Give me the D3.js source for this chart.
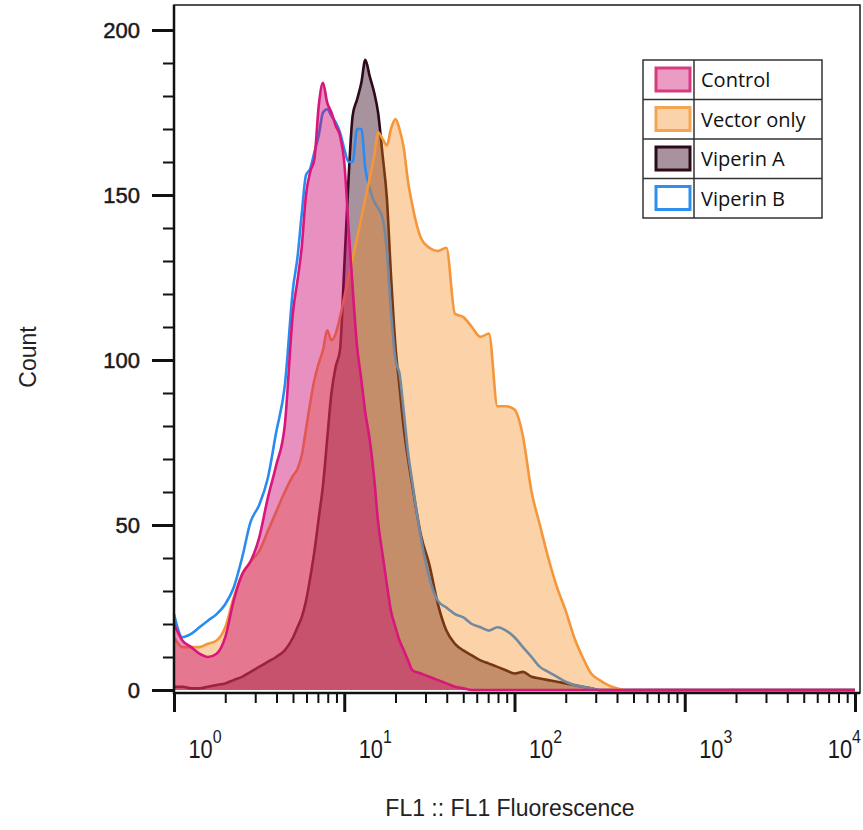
<!DOCTYPE html>
<html>
<head>
<meta charset="utf-8">
<script src="https://cdn.jsdelivr.net/npm/d3@7"></script>
<style>
  body { margin: 0; background: #fff; }
  text { font-family: "Liberation Sans", Arial, sans-serif; }
  .legend text { font-family: "Open Sans", sans-serif; }
</style>
</head>
<body>
<svg id="chart" width="863" height="830"></svg>
<script>
//Data - bin centres on the FL1 axis and the counts read for each sample
var fluorescence = [1.00, 1.12, 1.26, 1.41, 1.58, 1.78, 2.00, 2.24, 2.51, 2.82, 3.16, 3.55, 3.98, 4.47, 5.01,
	5.31, 5.62, 5.96, 6.31, 6.68, 7.08, 7.50, 7.94, 8.41, 8.91, 9.44, 10.0, 10.6, 11.2, 11.9, 12.6, 13.3, 14.1,
	15.0, 15.8, 16.8, 17.8, 18.8, 20.0, 21.1, 22.4, 23.7, 25.1,
	28.2, 31.6, 35.5, 39.8, 44.7, 50.1, 56.2, 63.1, 70.8, 79.4, 89.1, 100, 112, 126, 141, 158, 178, 200, 224,
	251, 282, 316, 355, 398, 447, 501, 631, 1000, 10000];

var control = [20, 15, 13, 11, 10, 11, 16, 27, 35, 39, 46, 58, 68, 80, 115,
	124, 134, 150, 157, 161, 177, 184, 178, 175, 171, 168, 160, 140, 122, 104, 94, 84, 76,
	64, 51, 41, 32, 24, 19, 15, 12, 9, 6,
	5, 4, 3, 2, 1, 0.5, 0, 0, 0, 0, 0, 0, 0, 0, 0, 0, 0, 0, 0,
	0, 0, 0, 0, 0, 0, 0, 0, 0, 0];

var vectorOnly = [16, 13, 13, 13, 14, 15, 19, 28, 35, 39, 42, 48, 54, 60, 65,
	67, 71, 79, 87, 94, 99, 103, 109, 106, 108, 113, 119, 125, 131, 137, 143, 149, 155,
	162, 169, 167, 165, 170, 173, 170, 164, 154, 147,
	137, 134, 133, 134, 114, 113, 110, 107, 108, 86, 86, 85, 77, 60, 50, 40, 31, 24, 16,
	10, 5, 3, 1.5, 0.5, 0, 0, 0, 0, 0];

var viperinA = [1, 1, 0.5, 0.5, 1, 1.5, 2, 3, 4, 5.5, 7, 8.5, 10, 12, 16,
	19, 22, 27, 34, 42, 52, 62, 76, 90, 98, 103, 128, 155, 174, 179, 184, 191, 186,
	181, 175, 162, 149, 126, 104, 92, 79, 70, 62,
	47, 38, 26, 18, 14, 12, 10.5, 9, 8, 7, 6, 5, 5.5, 4, 3.5, 3, 2.5, 2, 1.5,
	1, 0.5, 0, 0, 0, 0, 0, 0, 0, 0];

var viperinB = [23, 16, 17, 19, 21, 23, 26, 31, 40, 51, 56, 64, 78, 92, 122,
	131, 144, 156, 158, 163, 168, 175, 176, 174, 172, 169, 164, 160, 160, 170, 170, 158, 152,
	148, 146, 143, 133, 115, 100, 96, 84, 72, 63,
	46, 34, 27, 25, 23, 22, 20, 19, 18, 19, 18, 16, 13, 10, 7, 5.5, 4, 2.5, 1.5,
	1, 0.5, 0, 0, 0, 0, 0, 0, 0, 0];

var seriesNames = ["Control", "Vector only", "Viperin A", "Viperin B"];
var decades = [1, 10, 100, 1000, 10000];
var decadeLabels = ["0", "1", "2", "3", "4"];
var countTicks = [0, 50, 100, 150, 200];

//Styles (fill is drawn semi transparent so the overlaps mix like the cytometer export)
var styles = {
	"Control":     { fill: "#cc0973", fillOpacity: 0.45, stroke: "#d8177c" },
	"Vector only": { fill: "#f78514", fillOpacity: 0.37, stroke: "#f5963a" },
	"Viperin A":   { fill: "#3b0f25", fillOpacity: 0.45, stroke: "#2b0a1a" },
	"Viperin B":   { fill: "none",    fillOpacity: 0,    stroke: "#2a8cf0" }
};
var legendSwatch = {
	"Control":     { fill: "#eb9cc4", stroke: "#d63a80" },
	"Vector only": { fill: "#fbd3aa", stroke: "#f4a552" },
	"Viperin A":   { fill: "#a8929e", stroke: "#2b0a1a" },
	"Viperin B":   { fill: "#ffffff", stroke: "#2d8ff0" }
};

var counts = {
	"Control": control,
	"Vector only": vectorOnly,
	"Viperin A": viperinA,
	"Viperin B": viperinB
};

var svg = d3.select("#chart");

var x = d3.scaleLog()
	.domain([1, 10000])
	.range([174, 855]);

var y = d3.scaleLinear()
	.domain([0, 200])
	.range([690, 30]);

var plotLeft = 174, plotTop = 5, plotRight = 860, plotBottom = 693;

function seriesPoints(name) {
	return fluorescence.map(function(f, i) { return [f, counts[name][i]]; });
}

var area = d3.area()
	.x(function(d) { return x(d[0]); })
	.y0(y(0))
	.y1(function(d) { return y(d[1]); })
	.curve(d3.curveMonotoneX);

var line = d3.line()
	.x(function(d) { return x(d[0]); })
	.y(function(d) { return y(d[1]); })
	.curve(d3.curveMonotoneX);

// drawing order: Viperin A at the back, then the Viperin B outline, vector, control on top
var drawOrder = ["Viperin A", "Viperin B", "Vector only", "Control"];

var layers = svg.append("g").attr("class", "histograms");
drawOrder.forEach(function(name) {
	var pts = seriesPoints(name);
	var st = styles[name];
	if (st.fill != "none") {
		layers.append("path")
			.attr("d", area(pts))
			.attr("fill", st.fill)
			.attr("fill-opacity", st.fillOpacity);
	}
	layers.append("path")
		.attr("d", line(pts))
		.attr("fill", "none")
		.attr("stroke", st.stroke)
		.attr("stroke-width", 2.6)
		.attr("stroke-linejoin", "round");
});

//Frame
svg.append("rect")
	.attr("x", plotLeft)
	.attr("y", plotTop)
	.attr("width", plotRight - plotLeft)
	.attr("height", plotBottom - plotTop)
	.attr("fill", "none")
	.attr("stroke", "#1a1a1a")
	.attr("stroke-width", 1.5);
svg.append("line")
	.attr("x1", plotLeft).attr("x2", plotLeft)
	.attr("y1", plotTop).attr("y2", plotBottom + 1)
	.attr("stroke", "#111").attr("stroke-width", 2.5);
svg.append("line")
	.attr("x1", plotLeft).attr("x2", plotRight)
	.attr("y1", plotBottom).attr("y2", plotBottom)
	.attr("stroke", "#111").attr("stroke-width", 2.5);

//Y axis
var minorCounts = d3.range(0, 201, 10).filter(function(v) { return v % 50 != 0; });
var yMinor = svg.append("g")
	.attr("transform", "translate(" + plotLeft + ",0)")
	.call(d3.axisLeft(y).tickValues(minorCounts).tickSize(11).tickFormat(""));
var yMajor = svg.append("g")
	.attr("transform", "translate(" + plotLeft + ",0)")
	.call(d3.axisLeft(y).tickValues(countTicks).tickSize(22).tickPadding(12));
[yMinor, yMajor].forEach(function(g) { g.select(".domain").remove(); });
yMinor.selectAll("line").attr("stroke", "#111").attr("stroke-width", 2);
yMajor.selectAll("line").attr("stroke", "#111").attr("stroke-width", 3);
yMajor.selectAll("text")
	.attr("font-size", 22)
	.attr("fill", "#1a1a1a")
	.attr("stroke", "#1a1a1a")
	.attr("stroke-width", 0.5);

//X axis
var minorDecades = [];
[1, 10, 100, 1000].forEach(function(d) {
	for (var m = 2; m <= 9; m++) minorDecades.push(d * m);
});
var xMinor = svg.append("g")
	.attr("transform", "translate(0," + plotBottom + ")")
	.call(d3.axisBottom(x).tickValues(minorDecades).tickSize(10).tickFormat(""));
var xMajor = svg.append("g")
	.attr("transform", "translate(0," + plotBottom + ")")
	.call(d3.axisBottom(x).tickValues(decades).tickSize(19).tickFormat(""));
[xMinor, xMajor].forEach(function(g) { g.select(".domain").remove(); });
xMinor.selectAll("line").attr("stroke", "#111").attr("stroke-width", 2);
xMajor.selectAll("line").attr("stroke", "#111").attr("stroke-width", 3);

// the exported labels sit a little right of their ticks, last one pulled in to fit
var xLabels = svg.append("g").selectAll("text")
	.data(decades)
	.enter().append("text")
	.attr("transform", function(d, i) {
		var px = i == decades.length - 1 ? 861 : x(d) + 31;
		return "translate(" + px + ",758) scale(0.84,1)";
	})
	.attr("text-anchor", function(d, i) { return i == decades.length - 1 ? "end" : "middle"; })
	.attr("font-size", 26)
	.attr("fill", "#1a1a1a");
xLabels.append("tspan").text("10");
xLabels.append("tspan")
	.attr("dy", -15)
	.attr("font-size", 19)
	.text(function(d, i) { return decadeLabels[i]; });

//Axis titles
svg.append("text")
	.attr("x", 510)
	.attr("y", 816)
	.attr("text-anchor", "middle")
	.attr("font-size", 23)
	.attr("fill", "#222")
	.text("FL1 :: FL1 Fluorescence");
svg.append("text")
	.attr("transform", "translate(36,357) rotate(-90)")
	.attr("text-anchor", "middle")
	.attr("font-size", 23)
	.attr("fill", "#222")
	.text("Count");

//Legend
var legendX = 643, legendY = 60, legendW = 179, rowH = 39.5;
var legend = svg.append("g").attr("class", "legend");
legend.append("rect")
	.attr("x", legendX).attr("y", legendY)
	.attr("width", legendW).attr("height", rowH * seriesNames.length)
	.attr("fill", "#fff")
	.attr("stroke", "#333")
	.attr("stroke-width", 1.5);
legend.append("line")
	.attr("x1", 694).attr("x2", 694)
	.attr("y1", legendY).attr("y2", legendY + rowH * seriesNames.length)
	.attr("stroke", "#333").attr("stroke-width", 1.5);
var rows = legend.selectAll("g.row")
	.data(seriesNames)
	.enter().append("g")
	.attr("class", "row")
	.attr("transform", function(d, i) { return "translate(" + legendX + "," + (legendY + i * rowH) + ")"; });
rows.filter(function(d, i) { return i > 0; })
	.append("line")
	.attr("x1", 0).attr("x2", legendW)
	.attr("y1", 0).attr("y2", 0)
	.attr("stroke", "#333").attr("stroke-width", 1.5);
rows.append("rect")
	.attr("x", 13).attr("y", 8)
	.attr("width", 34).attr("height", 23)
	.attr("fill", function(d) { return legendSwatch[d].fill; })
	.attr("stroke", function(d) { return legendSwatch[d].stroke; })
	.attr("stroke-width", 3);
rows.append("text")
	.attr("x", 58).attr("y", 27)
	.attr("font-size", 20)
	.attr("fill", "#111")
	.text(function(d) { return d; });
</script>
</body>
</html>
